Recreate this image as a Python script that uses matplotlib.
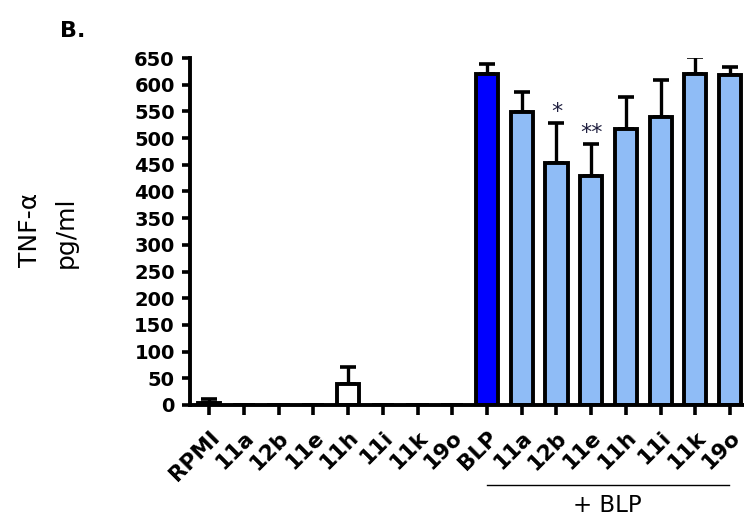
import matplotlib
matplotlib.use("Agg")
import matplotlib.pyplot as plt
import matplotlib.transforms as mtransforms
import numpy as np

# TNF-alpha release per treatment (pg/ml), mean and upper error
labels = ["RPMI", "11a", "12b", "11e", "11h", "11i", "11k", "19o",
          "BLP", "11a", "12b", "11e", "11h", "11i", "11k", "19o"]
means = [4, 0, 0, 0, 40, 0, 0, 0,
         620, 549, 453, 429, 517, 539, 620, 618]
errors = [7, 0, 0, 0, 32, 0, 0, 0,
          18, 37, 75, 60, 60, 70, 32, 15]
colors = ["white"] * 8 + ["#0000FF"] + ["#8FBCF6"] * 7
stars = {10: "*", 11: "**"}

plt.rcParams["font.family"] = ["DejaVu Sans"]

fig = plt.figure(figsize=(7.44, 5.22), dpi=100)
ax = fig.add_axes([190 / 744, 117 / 522, 554 / 744, 347 / 522])

x = np.arange(len(labels))
ax.bar(x, means, width=0.64, color=colors, edgecolor="black", linewidth=2.8, zorder=2)
ax.errorbar(x, means, yerr=[np.zeros(len(x)), errors], fmt="none",
            ecolor="black", elinewidth=2.4, capsize=5.5, capthick=2.6, zorder=1)

for i, s in stars.items():
    ax.text(x[i], means[i] + errors[i] + 2, s, ha="center", va="bottom",
            fontsize=16, color="#202040")

ax.set_xlim(-0.55, 15.4)
ax.set_ylim(0, 650)
ax.set_yticks(np.arange(0, 651, 50))
ax.set_xticks(x)
ax.set_xticklabels(labels, rotation=45, ha="right", rotation_mode="anchor",
                   fontsize=15.5, fontweight="bold")
# nudge rotated labels a bit left so their ends sit under the ticks
shift = mtransforms.ScaledTranslation(-6 / 100, -2 / 100, fig.dpi_scale_trans)
for t in ax.get_xticklabels():
    t.set_transform(t.get_transform() + shift)
for t in ax.get_yticklabels():
    t.set_fontweight("bold")
    t.set_fontsize(14)

ax.spines["top"].set_visible(False)
ax.spines["right"].set_visible(False)
ax.spines["left"].set_linewidth(2.8)
ax.spines["bottom"].set_linewidth(2.8)
ax.tick_params(axis="y", direction="out", length=6, width=2.6, pad=5)
ax.tick_params(axis="x", direction="out", length=7, width=2.6, pad=9)

# bracket marking the BLP-stimulated group
fig.add_artist(plt.Line2D([487 / 744, 729 / 744], [1 - 485 / 522, 1 - 485 / 522],
                          color="black", linewidth=1))
fig.text(607 / 744, 1 - 505 / 522, "+ BLP", ha="center", va="center", fontsize=16.5)

fig.text(30 / 744, 1 - 230 / 522, "TNF-\u03b1", rotation=90, ha="center", va="center", fontsize=18)
fig.text(66 / 744, 1 - 232 / 522, "pg/ml", rotation=90, ha="center", va="center", fontsize=18)
fig.text(60 / 744, 1 - 31 / 522, "B.", ha="left", va="center", fontsize=16,
         fontweight="bold")

fig.savefig("out.png", dpi=100)
